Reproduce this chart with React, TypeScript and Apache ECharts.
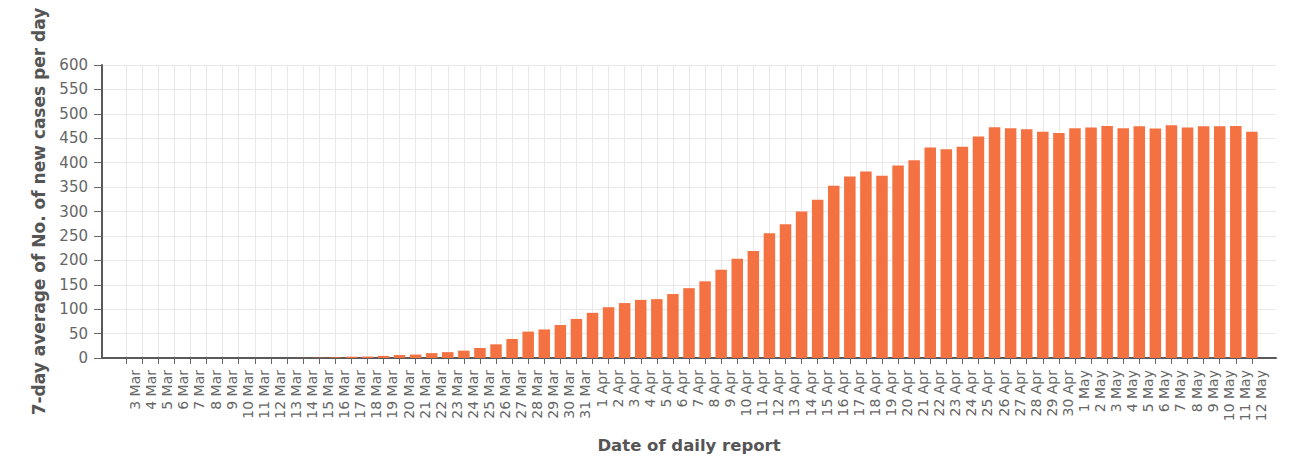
import React, { useEffect, useRef } from "react";
import * as echarts from "echarts";

const dates: string[] = [
  "3 Mar", "4 Mar", "5 Mar", "6 Mar", "7 Mar", "8 Mar", "9 Mar", "10 Mar", "11 Mar", "12 Mar",
  "13 Mar", "14 Mar", "15 Mar", "16 Mar", "17 Mar", "18 Mar", "19 Mar", "20 Mar", "21 Mar", "22 Mar",
  "23 Mar", "24 Mar", "25 Mar", "26 Mar", "27 Mar", "28 Mar", "29 Mar", "30 Mar", "31 Mar",
  "1 Apr", "2 Apr", "3 Apr", "4 Apr", "5 Apr", "6 Apr", "7 Apr", "8 Apr", "9 Apr", "10 Apr",
  "11 Apr", "12 Apr", "13 Apr", "14 Apr", "15 Apr", "16 Apr", "17 Apr", "18 Apr", "19 Apr", "20 Apr",
  "21 Apr", "22 Apr", "23 Apr", "24 Apr", "25 Apr", "26 Apr", "27 Apr", "28 Apr", "29 Apr", "30 Apr",
  "1 May", "2 May", "3 May", "4 May", "5 May", "6 May", "7 May", "8 May", "9 May", "10 May",
  "11 May", "12 May",
];

const marchValues: number[] = [
  0, 0, 0, 0, 0, 0, 0, 0, 0, 0,
  0, 0.3, 0.6, 1.3, 2.7, 3, 4.3, 6, 7, 10,
  12, 15, 20.5, 28, 39, 54, 58.5, 67.5, 80,
];
const aprilValues: number[] = [
  92.5, 104, 112.5, 119, 120.5, 131, 143, 157, 180.5, 203,
  219, 255.5, 274, 300, 324, 352.5, 371.5, 382, 373, 394,
  405, 431, 427.5, 432.5, 453.5, 472.5, 470.5, 468.5, 463.5, 460.5,
];
const mayValues: number[] = [
  470.5, 472, 475, 470.5, 474.5, 470, 476.5, 472, 474.5, 474.5, 475, 463.5,
];

const yTicks = { min: 0, max: 600, interval: 50 };

export default function App() {
  const ref = useRef<HTMLDivElement>(null);

  useEffect(() => {
    if (!ref.current) return;
    const chart = echarts.init(ref.current, null, { renderer: "svg" });
    const values = [...marchValues, ...aprilValues, ...mayValues];
    // one empty slot at each end pads the axis like the original
    const cats = ["", ...dates, ""];
    const data: any[] = ["-", ...values, "-"];
    const isReal = (_i: number, v: string) => v !== "";
    const font = "DejaVu Sans";
    chart.setOption({
      animation: false,
      backgroundColor: "#ffffff",
      grid: { left: 102, right: 16, top: 65, bottom: 105, containLabel: false },
      xAxis: {
        type: "category",
        data: cats,
        boundaryGap: true,
        name: "Date of daily report",
        nameLocation: "middle",
        nameGap: 79,
        nameTextStyle: { fontFamily: font, fontSize: 16.5, fontWeight: "bold", color: "#555" },
        axisLine: { show: true, lineStyle: { color: "#5a5a5a", width: 2 } },
        axisTick: {
          show: true,
          alignWithLabel: true,
          interval: isReal,
          length: 6,
          lineStyle: { color: "#666", width: 1 },
        },
        axisLabel: {
          interval: 0,
          rotate: 90,
          margin: 12,
          fontFamily: font,
          fontSize: 14,
          lineHeight: 18,
          color: "#666",
          // an empty first line nudges each rotated label right of its tick, as in the original
          formatter: (v: string) => (v ? "\n" + v : ""),
        },
        splitLine: {
          show: true,
          alignWithLabel: true,
          interval: isReal,
          lineStyle: { color: "#e8e8e8", width: 1 },
        },
      },
      yAxis: {
        type: "value",
        min: yTicks.min,
        max: yTicks.max,
        interval: yTicks.interval,
        name: "7-day average of No. of new cases per day",
        nameLocation: "middle",
        nameGap: 55,
        nameTextStyle: { fontFamily: font, fontSize: 17, fontWeight: "bold", color: "#555" },
        axisLine: { show: true, lineStyle: { color: "#5a5a5a", width: 2 } },
        axisTick: { show: true, length: 8, lineStyle: { color: "#666", width: 1 } },
        axisLabel: { margin: 14, fontFamily: font, fontSize: 15, color: "#666" },
        splitLine: { show: true, lineStyle: { color: "#e8e8e8", width: 1 } },
      },
      series: [
        {
          type: "bar",
          data,
          barWidth: 11.5,
          itemStyle: { color: "#f47142" },
        },
      ],
    });
    return () => chart.dispose();
  }, []);

  return (
    <div
      ref={ref}
      style={{ position: "fixed", left: 0, top: 0, width: 1292, height: 463, background: "#fff" }}
    />
  );
}
